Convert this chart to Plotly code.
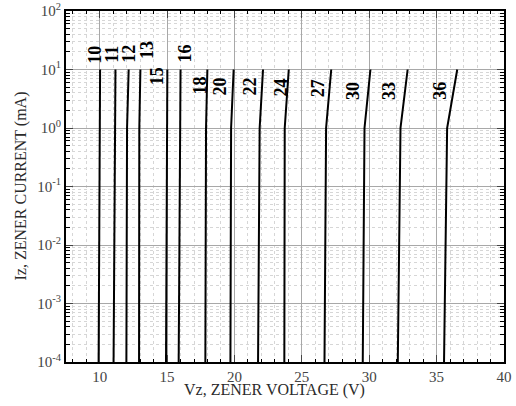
import numpy as np
import plotly.graph_objects as go

# Zener voltage labels
labels = ["10", "11", "12", "13", "15", "16", "18", "20", "22", "24", "27", "30", "33", "36"]
# Current points (mA) along each curve
currents = [1e-4, 1.0, 10.0]
# Voltage at each current point for each curve
v_low = [9.92, 11.03, 11.98, 12.92, 14.92, 15.86, 17.84, 19.70, 21.75, 23.70, 26.68, 29.52, 32.12, 35.55]
v_knee = [9.99, 11.14, 12.03, 12.94, 14.97, 15.93, 17.89, 19.75, 21.87, 23.73, 26.80, 29.65, 32.32, 35.78]
v_top = [10.03, 11.17, 12.15, 13.02, 15.02, 16.00, 17.99, 19.94, 22.12, 24.03, 27.18, 30.09, 32.85, 36.53]
# Label anchor (voltage, current mA)
label_v = [9.64, 10.90, 12.15, 13.50, 14.26, 16.36, 17.47, 18.96, 21.18, 23.48, 26.20, 28.80, 31.48, 35.24]
label_i = [17.7, 18.4, 18.4, 21.5, 7.7, 19.1, 5.4, 5.2, 5.2, 5.0, 4.8, 4.3, 4.3, 4.3]

x_ticks = [10, 15, 20, 25, 30, 35, 40]
y_ticks = [1e-4, 1e-3, 1e-2, 1e-1, 1, 10, 100]
y_tick_text = ["10<sup>-4</sup>", "10<sup>-3</sup>", "10<sup>-2</sup>", "10<sup>-1</sup>",
               "10<sup>0</sup>", "10<sup>1</sup>", "10<sup>2</sup>"]

fig = go.Figure()
for lab, a, b, c in zip(labels, v_low, v_knee, v_top):
    fig.add_trace(go.Scatter(x=[a, b, c], y=currents, mode="lines",
                             line=dict(color="black", width=2), name=lab,
                             showlegend=False, hoverinfo="skip"))

for lab, lv, li in zip(labels, label_v, label_i):
    fig.add_annotation(x=lv, y=np.log10(li), text=lab, textangle=-90,
                       showarrow=False,
                       font=dict(family="Liberation Serif", size=18, color="black", weight="bold"))

fig.add_annotation(xref="paper", yref="paper", x=0.475, y=-0.08,
                   text="Vz, ZENER VOLTAGE (V)", showarrow=False,
                   font=dict(family="Liberation Serif", size=16, color="#2a2a2a"),
                   xanchor="center", yanchor="middle")
fig.add_annotation(xref="paper", yref="paper", x=-0.105, y=0.5,
                   text="Iz, ZENER CURRENT (mA)", showarrow=False, textangle=-90,
                   font=dict(family="Liberation Serif", size=16, color="#2a2a2a"),
                   xanchor="center", yanchor="middle")

minor_y = [m * 10.0 ** e for e in range(-4, 2) for m in range(2, 10)]

fig.update_xaxes(range=[7.5, 40], tickvals=x_ticks, ticks="inside", ticklen=7,
                 tickcolor="#444", tickwidth=1,
                 showgrid=True, gridcolor="#a8a8a8", gridwidth=1,
                 showline=True, linecolor="black", linewidth=2, mirror="allticks",
                 zeroline=False, automargin=False, ticklabeloverflow="allow",
                 tickfont=dict(family="Liberation Serif", size=15, color="#444"),
                 minor=dict(dtick=1, tick0=0, ticks="inside", ticklen=3, tickcolor="black",
                            showgrid=True, gridcolor="#d6d6d6", griddash="dot", gridwidth=1))
fig.update_yaxes(type="log", range=[-4, 2], tickvals=y_ticks, ticktext=y_tick_text,
                 ticks="inside", ticklen=7, tickcolor="#444", tickwidth=1,
                 showgrid=True, gridcolor="#a8a8a8", gridwidth=1,
                 showline=True, linecolor="black", linewidth=2, mirror="allticks",
                 zeroline=False, automargin=False, ticklabeloverflow="allow",
                 tickfont=dict(family="Liberation Serif", size=15, color="#444"),
                 minor=dict(tickvals=minor_y, ticks="inside", ticklen=4, tickcolor="black",
                            showgrid=True, gridcolor="#d6d6d6", griddash="dot", gridwidth=1))

fig.update_layout(width=516, height=406,
                  margin=dict(l=66, r=12, t=11, b=44, autoexpand=False),
                  paper_bgcolor="white", plot_bgcolor="white", showlegend=False)

# remove the default 8px page margin so the figure fills the window exactly
fig.write_html("out.html", config={"displayModeBar": False},
               post_script="document.body.style.margin='0';")
